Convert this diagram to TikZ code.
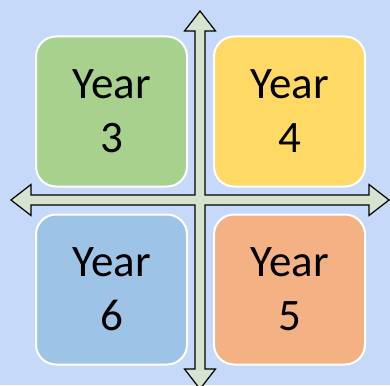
\documentclass[tikz,border=0pt]{standalone}
\usepackage{fontspec}
\setmainfont{Carlito}
\usetikzlibrary{calc}
\definecolor{bgblue}{HTML}{C6D9F8}
\definecolor{crossfill}{HTML}{D6E4CF}
\definecolor{yrgreen}{HTML}{A9D18E}
\definecolor{yryellow}{HTML}{FFD966}
\definecolor{yrblue}{HTML}{9DC3E6}
\definecolor{yrorange}{HTML}{F4B183}
\tikzset{
  yearbox/.style={draw=white, line width=2pt, rounded corners=20pt,
    minimum width=151pt, minimum height=150pt, align=center,
    font=\fontsize{45}{54}\selectfont},
}
\begin{document}
\begin{tikzpicture}[x=1pt,y=-1pt]
                \fill [bgblue] (0,0) rectangle (390,385) ;
                \useasboundingbox (0,0) rectangle (390,385) ;
                \coordinate (mid) at (200,200) ;
                % the four year boxes
                \draw (111.5,111.5) node[yearbox, fill=yrgreen] (y3) {Year\\3} ;
                \draw (289.5,111.5) node[yearbox, fill=yryellow] (y4) {Year\\4} ;
                \draw (111.5,289.5) node[yearbox, fill=yrblue] (y6) {Year\\6} ;
                \draw (289.5,289.5) node[yearbox, fill=yrorange] (y5) {Year\\5} ;
                % the cross with four heads
                \draw [fill=crossfill, line width=1.2pt, line join=miter]
                  ($(mid)+(5,5)$) -- ++(0,164) -- ++(10.5,0) -- ++(-15.5,20)
                  -- ++(-15.5,-20) -- ++(10.5,0) -- ++(0,-164)
                  -- ++(-164,0) -- ++(0,10.5) -- ++(-20,-15.5)
                  -- ++(20,-15.5) -- ++(0,10.5) -- ++(164,0)
                  -- ++(0,-164) -- ++(-10.5,0) -- ++(15.5,-20)
                  -- ++(15.5,20) -- ++(-10.5,0) -- ++(0,164)
                  -- ++(164,0) -- ++(0,-10.5) -- ++(20,15.5)
                  -- ++(-20,15.5) -- ++(0,-10.5) -- cycle ;
\end{tikzpicture}
\end{document}
